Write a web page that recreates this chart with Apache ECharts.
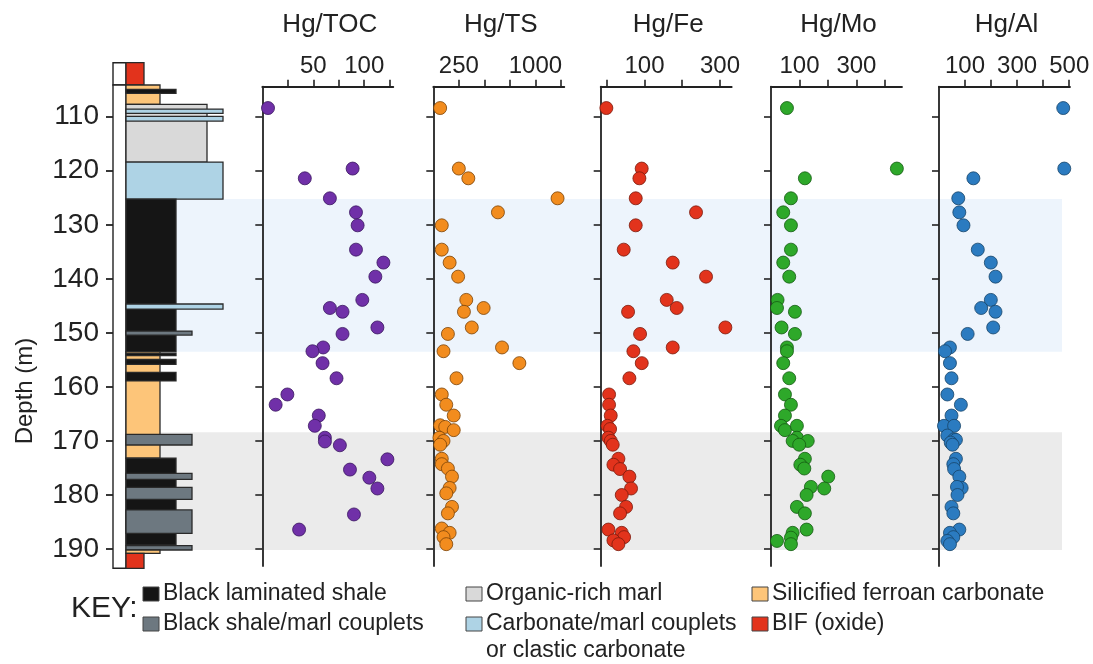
<!DOCTYPE html>
<html><head><meta charset="utf-8">
<script src="https://cdn.jsdelivr.net/npm/echarts@6/dist/echarts.min.js"></script>
<style>html,body{margin:0;padding:0;background:#fff}#c{width:1093px;height:664px}</style>
</head><body><div id="c"></div>
<script>
// ---------------- DATA ----------------
const panelNames = ['Hg/TOC', 'Hg/TS', 'Hg/Fe', 'Hg/Mo', 'Hg/Al'];
const panelTicks = [[25,50,75,100,125],[250,500,750,1000,1250],[0,100,200,300],[100,200,300,400],[100,200,300,400,500]];
const panelLabels = [[50,100],[250,1000],[100,300],[100,300],[100,300,500]];
const depthTicks = [110,120,130,140,150,160,170,180,190];

// [value, depth]
const hgTOC = [[5.6,108.4],[88.6,119.6],[41.7,121.4],[66.3,125.1],[91.9,127.7],[93.5,130.1],[91.9,134.6],[118.8,137.0],[110.9,139.6],[98.1,143.9],[66.3,145.4],[78.7,146.1],[112.9,149.0],[78.7,150.2],[59.7,152.7],[49.2,153.4],[59.1,155.6],[72.8,158.4],[24.6,161.4],[13.1,163.3],[55.4,165.3],[51.5,167.2],[61.4,169.4],[61.4,170.1],[76.1,170.8],[122.7,173.4],[86.0,175.3],[105.0,176.8],[112.9,178.8],[89.9,183.6],[36.1,186.4]];
const hgTS = [[67,108.4],[250,119.6],[343,121.4],[1217,125.1],[633,127.7],[83,130.1],[83,134.6],[160,137.0],[243,139.6],[323,143.9],[493,145.4],[300,146.1],[377,149.0],[143,150.2],[673,152.7],[100,153.4],[843,155.6],[227,158.4],[83,161.4],[127,163.3],[200,165.3],[67,167.1],[117,167.4],[200,168.0],[60,169.4],[100,170.0],[67,170.7],[83,173.3],[83,174.3],[143,175.1],[183,176.6],[160,178.7],[127,179.7],[183,182.2],[143,183.4],[83,186.2],[160,187.0],[100,187.8],[127,189.1]];
const hgFe = [[-1,108.4],[92.6,119.6],[86.5,121.4],[76.8,125.1],[236.5,127.7],[76.8,130.1],[45,134.6],[174.8,137.0],[263,139.6],[158.9,143.9],[185.3,145.4],[56.5,146.1],[314.2,149.0],[88.3,150.2],[174.8,152.7],[70.6,153.4],[92.7,155.6],[60,158.4],[6.2,161.4],[6.2,163.3],[10.6,165.3],[1.8,167.2],[8.8,167.8],[4.4,169.4],[10.6,170.0],[15.9,170.7],[30.9,173.3],[17.7,174.4],[35.3,175.2],[60,176.6],[64.4,178.8],[39.7,180.0],[51.2,182.2],[35.3,183.4],[4.4,186.4],[39.7,187.0],[45.9,187.8],[17.7,188.4],[30.9,189.1]];
const hgMo = [[56,108.4],[442,119.6],[119,121.4],[70,125.1],[43,127.7],[70,130.1],[70,134.6],[43,137.0],[64,139.6],[23,143.9],[21,145.4],[84,146.1],[37,149.0],[84,150.2],[56,152.7],[56,153.4],[43,155.6],[64,158.4],[49,161.4],[70,163.3],[49,165.3],[35,167.2],[49,168.0],[91,167.2],[91,169.4],[76,170.0],[129,170.0],[99,170.7],[119,173.3],[103,174.4],[117,175.1],[201,176.6],[140,178.5],[187,178.8],[125,180.0],[91,182.2],[119,183.4],[125,186.4],[76,187.0],[70,187.9],[21,188.5],[70,189.1]];
const hgAl = [[477,108.4],[481,119.6],[132,121.4],[74,125.1],[78,127.7],[94,130.1],[149,134.6],[199,137.0],[217,139.6],[199,143.9],[162,145.4],[217,146.1],[208,149.0],[110,150.2],[42,152.7],[23,153.4],[42,155.6],[48,158.4],[32,161.4],[84,163.3],[48,165.3],[19,167.2],[58,167.2],[32,169.0],[58,169.7],[65,169.8],[45,170.3],[52,170.7],[65,173.3],[55,174.3],[58,175.2],[78,176.6],[87,178.7],[69,178.5],[71,180.0],[48,182.2],[55,183.4],[78,186.4],[42,187.0],[55,187.8],[32,188.5],[42,189.1]];
const panelData = [hgTOC, hgTS, hgFe, hgMo, hgAl];

// lithology units: top depth, base depth, type (drawing order)
const lithTop  = [100.0, 104.13, 104.93, 107.7, 108.58, 109.93, 118.4, 125.23, 144.66, 149.66, 153.49, 153.8, 154.93, 157.3, 168.77, 173.2, 175.99, 178.58, 182.77, 189.39, 190.18, 190.79];
const lithBase = [104.13, 107.7, 105.67, 118.4, 109.37, 110.8, 125.23, 153.49, 145.59, 150.4, 173.2, 154.2, 155.82, 158.9, 170.75, 189.26, 177.1, 180.8, 187.09, 190.18, 190.79, 193.57];
const lithType = ['bif','sfc','bls','orm','cmc','cmc','cmc','bls','cmc','bsm','sfc','bls','bls','bls','bsm','bls','bsm','bsm','bsm','bsm','sfc','bif'];
const stripTop = [100.0, 104.13];
const stripBase = [104.13, 193.57];

// shaded intervals
const bandTop = [125.23, 168.4];
const bandBase = [153.49, 190.18];

const legendTypes = [['bls','orm','sfc'],['bsm','cmc','bif']];
const legendLabels = [['Black laminated shale','Organic-rich marl','Silicified ferroan carbonate'],
                      ['Black shale/marl couplets','Carbonate/marl couplets','BIF (oxide)']];
const legendExtra = 'or clastic carbonate';

// ---------------- STYLE ----------------
const lithStyle = {
  bls: {fill:'#151515', w:50},
  bsm: {fill:'#6d7880', w:66},
  orm: {fill:'#d9d9d9', w:81},
  cmc: {fill:'#aed3e5', w:97},
  sfc: {fill:'#fdc579', w:34},
  bif: {fill:'#e2331c', w:18}
};
const bandColors = ['#edf4fc', '#ebebeb'];
const panelColors = ['#7030a8','#f28c1e','#e2331c','#2ea82a','#2b7bc0'];
const panelBorders = ['#3a1760','#7a4208','#7a1a0c','#145a12','#174468'];
const panelLeft = [262.3, 433.3, 600.7, 771, 939];
const panelWidth = 131;
const panelMin = [0, 0, -16, 0, 0];
const panelMax = [128.5, 1283, 331, 460, 503];
const FONT = '"Liberation Sans", Arial, sans-serif';
const plotTop = 86.7, plotH = 479.3, yMin = 104.45, yMax = 193.14;
const lithTopPx = 62.7, lithH = 505.6, lithYMin = 100, lithYMax = 193.57;
const plain = v => String(v);

const chart = echarts.init(document.getElementById('c'), null, {renderer:'canvas'});

const grids = [], xAxes = [], yAxes = [], series = [];
// grid 0: bands
grids.push({left:126, top:plotTop, width:936, height:plotH});
xAxes.push({gridIndex:0, type:'value', min:0, max:1, show:false});
yAxes.push({gridIndex:0, type:'value', min:yMin, max:yMax, inverse:true, show:false});
series.push({
  type:'custom', xAxisIndex:0, yAxisIndex:0, z:-5, zlevel:0, silent:true,
  data: bandTop.map((t,i)=>[t, bandBase[i], i]),
  renderItem:(p, api)=>{
    const a = api.coord([0, api.value(0)]), b = api.coord([1, api.value(1)]);
    return {type:'rect', shape:{x:a[0], y:a[1], width:b[0]-a[0], height:b[1]-a[1]}, style:{fill:bandColors[api.value(2)]}};
  }
});
// grid 1: lithology
grids.push({left:113, top:lithTopPx, width:110, height:lithH});
xAxes.push({gridIndex:1, type:'value', min:0, max:110, show:false});
yAxes.push({gridIndex:1, type:'value', min:lithYMin, max:lithYMax, inverse:true, z:8,
  axisLine:{show:false}, splitLine:{show:false},
  axisTick:{show:true, length:7, customValues:depthTicks, lineStyle:{color:'#222', width:1.8}},
  axisLabel:{show:true, customValues:depthTicks, margin:14, fontSize:28, color:'#222', fontFamily:FONT, formatter:plain}
});
series.push({
  type:'custom', xAxisIndex:1, yAxisIndex:1, z:5, silent:true,
  data: stripTop.map((t,i)=>[t, stripBase[i]]),
  renderItem:(p, api)=>{
    const a = api.coord([0, api.value(0)]), b = api.coord([13, api.value(1)]);
    return {type:'rect', shape:{x:a[0], y:a[1], width:b[0]-a[0], height:b[1]-a[1]}, style:{fill:'#ffffff', stroke:'#222', lineWidth:1.4}};
  }
});
series.push({
  type:'custom', xAxisIndex:1, yAxisIndex:1, z:6, silent:true,
  data: lithTop.map((t,i)=>[t, lithBase[i], i]),
  renderItem:(p, api)=>{
    const st = lithStyle[lithType[api.value(2)]];
    const a = api.coord([13, api.value(0)]), b = api.coord([13 + st.w, api.value(1)]);
    return {type:'rect', shape:{x:a[0], y:a[1], width:b[0]-a[0], height:b[1]-a[1]}, style:{fill:st.fill, stroke:'#2a2a2a', lineWidth:1.3}};
  }
});
// scatter panels
panelNames.forEach((name, k)=>{
  const gi = k + 2;
  grids.push({left:panelLeft[k], top:plotTop, width:panelWidth, height:plotH});
  xAxes.push({gridIndex:gi, type:'value', position:'top', min:panelMin[k], max:panelMax[k], z:8,
    axisLine:{show:true, onZero:false, lineStyle:{color:'#222', width:1.8}},
    axisTick:{show:true, length:7, customValues:panelTicks[k], lineStyle:{color:'#222', width:1.6}},
    axisLabel:{show:true, customValues:panelLabels[k], margin:8, fontSize:24, color:'#222', fontFamily:FONT, formatter:plain},
    splitLine:{show:false}
  });
  yAxes.push({gridIndex:gi, type:'value', min:yMin, max:yMax, inverse:true, z:8,
    axisLine:{show:true, onZero:false, lineStyle:{color:'#222', width:1.8}},
    axisTick:{show:true, length:7, customValues:depthTicks, lineStyle:{color:'#222', width:1.6}},
    axisLabel:{show:false}, splitLine:{show:false}
  });
  series.push({type:'scatter', name:name, xAxisIndex:gi, yAxisIndex:gi, z:10,
    data:panelData[k], symbol:'circle', symbolSize:13,
    itemStyle:{color:panelColors[k], borderColor:panelBorders[k], borderWidth:0.8, opacity:1}
  });
});

// graphics: titles, depth label, key
const graphics = [];
panelNames.forEach((name,k)=>{
  graphics.push({type:'text', x:panelLeft[k]+panelWidth/2+2, y:25, z:20,
    style:{text:name, fontSize:26, fontFamily:FONT, fill:'#222', align:'center', verticalAlign:'middle', textAlign:'center', textVerticalAlign:'middle'}});
});
graphics.push({type:'text', x:25, y:391, rotation:Math.PI/2, z:20,
  style:{text:'Depth (m)', fontSize:24, fontFamily:FONT, fill:'#222', align:'center', verticalAlign:'middle', textAlign:'center', textVerticalAlign:'middle'}});
graphics.push({type:'text', x:71, y:609, z:20,
  style:{text:'KEY:', fontSize:30, fontFamily:FONT, fill:'#222', align:'left', verticalAlign:'middle', textAlign:'left', textVerticalAlign:'middle'}});
const colX = [143, 466, 752], rowY = [594, 624];
legendTypes.forEach((row, r)=>{
  row.forEach((t, c)=>{
    graphics.push({type:'rect', z:20, shape:{x:colX[c], y:rowY[r]-7, width:16, height:14},
      style:{fill:lithStyle[t].fill, stroke:'#444', lineWidth:1}});
    graphics.push({type:'text', x:colX[c]+20, y:rowY[r], z:20,
      style:{text:legendLabels[r][c], fontSize:23, fontFamily:FONT, fill:'#222', align:'left', verticalAlign:'middle', textAlign:'left', textVerticalAlign:'middle'}});
  });
});
graphics.push({type:'text', x:colX[1]+20, y:651, z:20,
  style:{text:legendExtra, fontSize:23, fontFamily:FONT, fill:'#222', align:'left', verticalAlign:'middle', textAlign:'left', textVerticalAlign:'middle'}});

chart.setOption({
  animation:false,
  backgroundColor:'#ffffff',
  grid:grids, xAxis:xAxes, yAxis:yAxes, series:series, graphic:graphics
});
</script></body></html>
